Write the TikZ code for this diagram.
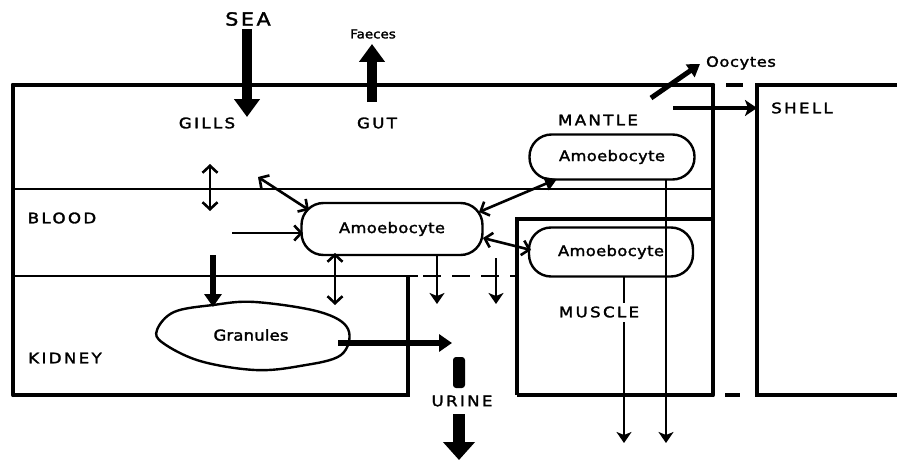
\documentclass[tikz,border=0pt]{standalone}
\usepackage{fontspec}
\setmainfont{DejaVu Sans}
\newfontfamily\capsfont[LetterSpace=16,FakeStretch=1.15,FakeBold=2]{DejaVu Sans}
\newfontfamily\amfont[LetterSpace=3,FakeStretch=1.12,FakeBold=2]{DejaVu Sans}
\newfontfamily\grfont[LetterSpace=1,FakeStretch=1.1,FakeBold=2]{DejaVu Sans}
\newfontfamily\faefont[LetterSpace=0,FakeStretch=1.1,FakeBold=2]{DejaVu Sans}
\newfontfamily\oofont[LetterSpace=5,FakeStretch=1.15,FakeBold=2]{DejaVu Sans}
\newfontfamily\seafont[LetterSpace=14,FakeStretch=1.15,FakeBold=2]{DejaVu Sans}
\usetikzlibrary{arrows.meta,shapes.geometric}
\begin{document}
\begin{tikzpicture}[x=1pt,y=-1pt,
  lab/.style={font=\capsfont\fontsize{14.5}{15}\selectfont, inner sep=0pt},
  amtxt/.style={font=\amfont\fontsize{14.5}{15}\selectfont},
  blob/.style={draw, line width=2.4pt, rounded corners=22pt, inner sep=0pt, amtxt},
  frame/.style={line width=4.2pt, line cap=round},
  boxline/.style={line width=3.2pt},
  divider/.style={line width=2.5pt},
  thin/.style={line width=2.6pt},
  barbs/.style={thin, {Straight Barb[length=7pt,width=15pt]}-{Straight Barb[length=7pt,width=15pt]}},
  barbone/.style={thin, -{Straight Barb[length=7pt,width=15pt]}},
  stealthdown/.style={thin, -{Stealth[length=11pt,width=15pt,inset=3pt]}},
  bigarrow/.style={line width=10pt, -{Triangle[length=18pt,width=25pt]}},
  midarrow/.style={line width=6pt, -{Triangle[length=13pt,width=17pt]}},
]
\useasboundingbox (0,0) rectangle (897,460);

% frames
\draw[frame] (13,85) -- (713,85);
\draw[frame] (13,85) -- (13,395);
\draw[frame] (713,85) -- (713,395);
\draw[divider] (13,189) -- (713,189);
\draw[divider] (13,276) -- (418,276);
\draw[divider, dash pattern=on 18pt off 11pt] (423,276) -- (517,276);
\draw[boxline] (13,395) -- (408,395) -- (408,276);
\draw[boxline] (517,395) -- (517,219) -- (713,219);
\draw[boxline] (517,395) -- (713,395);
\draw[line width=3.6pt] (897,85) -- (757,85) -- (757,395) -- (897,395);
\draw[line width=4pt] (726,85) -- (743,85);
\draw[line width=4pt] (725,395) -- (740,395);

% labels
\node[font=\seafont\fontsize{18}{18}\selectfont, inner sep=0pt] (sea) at (248,19) {SEA};
\node[font=\faefont\fontsize{12.2}{13}\selectfont, inner sep=0pt] (faeces) at (373,34) {Faeces};
\node[font=\oofont\fontsize{14}{14}\selectfont, inner sep=0pt] (oocytes) at (741,63) {Oocytes};
\node[lab] (gills) at (207,123) {GILLS};
\node[lab] (gut) at (377,123) {GUT};
\node[lab] (mantle) at (598,120) {MANTLE};
\node[lab] (shell) at (802,108) {SHELL};
\node[lab] (blood) at (62,218) {BLOOD};
\node[lab] (kidney) at (65,358) {KIDNEY};
\node[lab] (muscle) at (599,312) {MUSCLE};
\node[lab] (urine) at (462,401) {URINE};

% blobs
\node[blob, minimum width=181pt, minimum height=52pt] (amb) at (392,229) {Amoebocyte};
\node[blob, minimum width=165pt, minimum height=45pt] (amm) at (612,157) {Amoebocyte};
\node[blob, minimum width=164pt, minimum height=49pt] (ams) at (611,252) {Amoebocyte};
\draw[line width=2.4pt] plot[smooth cycle, tension=0.6] coordinates {
  (157,330) (174,312) (213,305) (255,302) (320,312) (348,329)
  (341,355) (300,366) (255,370) (200,361) (163,343)};
\node[font=\grfont\fontsize{15}{15}\selectfont, inner sep=0pt] (gran) at (251,335) {Granules};
\node[fill, rounded corners=3pt, minimum width=12pt, minimum height=31pt, inner sep=0pt] (ubar) at (459,372.5) {};

% coordinates
\coordinate (seaA) at (247,29);
\coordinate (seaB) at (247,117);
\coordinate (faeA) at (372,102);
\coordinate (faeB) at (372,44);
\coordinate (uriA) at (459,414);
\coordinate (uriB) at (459,460);
\coordinate (gl1) at (210,164);
\coordinate (gl2) at (210,211);
\coordinate (ga) at (258,177);
\coordinate (gb) at (309,210);
\coordinate (bl) at (232,233);
\coordinate (blb) at (303,233);
\coordinate (kd1) at (335,253);
\coordinate (kd2) at (335,305);
\coordinate (d1a) at (437,255);
\coordinate (d1b) at (437,304);
\coordinate (d2a) at (496,258);
\coordinate (d2b) at (496,304);
\coordinate (mm1) at (479,212);
\coordinate (mm2) at (557,179);
\coordinate (ms1) at (483,238);
\coordinate (ms2) at (531,250);
\coordinate (mdA) at (666,179);
\coordinate (mdB) at (666,443);
\coordinate (sdA) at (624,276);
\coordinate (sdB) at (624,303);
\coordinate (sdC) at (624,322);
\coordinate (sdD) at (624,443);
\coordinate (ooA) at (651,98);
\coordinate (ooB) at (700,64);
\coordinate (shA) at (673,108);
\coordinate (shB) at (757,108);
\coordinate (kiA) at (213,255);
\coordinate (kiB) at (213,307);
\coordinate (grA) at (338,343);
\coordinate (grB) at (452,343);

% connectors
\draw[bigarrow] (seaA) -- (seaB);
\draw[bigarrow] (faeA) -- (faeB);
\draw[line width=12pt, -{Triangle[length=18pt,width=31pt]}] (uriA) -- (uriB);
\draw[barbs] (gl1) -- (gl2);
\draw[barbs] (ga) -- (gb);
\draw[barbone] (bl) -- (blb);
\draw[barbs] (kd1) -- (kd2);
\draw[stealthdown] (d1a) -- (d1b);
\draw[stealthdown] (d2a) -- (d2b);
\draw[thin, {Straight Barb[length=7pt,width=15pt]}-{Triangle[length=12pt,width=14pt]}] (mm1) -- (mm2);
\draw[barbs] (ms1) -- (ms2);
\draw[stealthdown] (mdA) -- (mdB);
\draw[thin] (sdA) -- (sdB);
\draw[stealthdown] (sdC) -- (sdD);
\draw[line width=5pt, -{Triangle[length=12pt,width=15pt]}] (ooA) -- (ooB);
\draw[line width=4pt, -{Stealth[length=12pt,width=16pt,inset=3pt]}] (shA) -- (shB);
\draw[midarrow] (kiA) -- (kiB);
\draw[midarrow] (grA) -- (grB);
\end{tikzpicture}
\end{document}
